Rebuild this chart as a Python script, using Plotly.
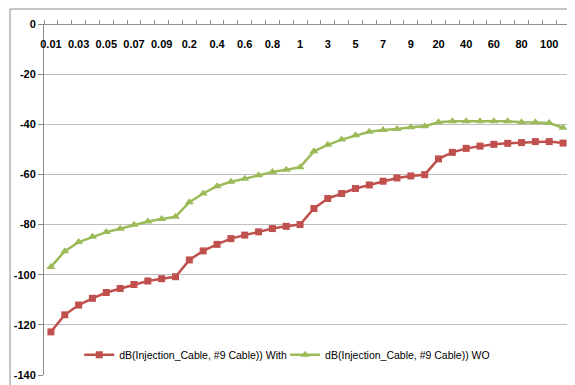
import plotly.graph_objects as go

freq_labels = ["0.01", "0.02", "0.03", "0.04", "0.05", "0.06", "0.07", "0.08", "0.09",
               "0.1", "0.2", "0.3", "0.4", "0.5", "0.6", "0.7", "0.8", "0.9",
               "1", "2", "3", "4", "5", "6", "7", "8", "9",
               "10", "20", "30", "40", "50", "60", "70", "80", "90",
               "100", "110"]

with_vals = [-122.8, -116.0, -112.1, -109.4, -107.1, -105.5, -103.9, -102.5, -101.6,
             -100.8, -94.1, -90.5, -87.9, -85.6, -84.2, -82.9, -81.6, -80.7,
             -80.0, -73.6, -69.6, -67.6, -65.6, -64.2, -62.7, -61.4, -60.6,
             -60.1, -53.8, -51.2, -49.6, -48.7, -48.0, -47.6, -47.3, -46.9,
             -46.9, -47.5]

wo_vals = [-96.9, -90.6, -87.0, -84.9, -83.0, -81.7, -80.1, -78.8, -77.8,
           -76.9, -71.1, -67.6, -64.7, -62.9, -61.7, -60.3, -59.0, -58.1,
           -57.1, -50.8, -48.2, -46.1, -44.4, -43.0, -42.3, -41.9, -41.2,
           -40.8, -39.2, -38.8, -38.8, -38.8, -38.8, -38.8, -39.2, -39.2,
           -39.5, -41.4]

series_names = ["dB(Injection_Cable, #9 Cable)) With", "dB(Injection_Cable, #9 Cable)) WO"]
y_ticks = [0, -20, -40, -60, -80, -100, -120, -140]
y_tick_text = ["0", "-20", "-40", "-60", "-80", "-100", "-120", "-140"]

FONT = "Liberation Sans, Arial, sans-serif"
idx = list(range(len(freq_labels)))

fig = go.Figure()
fig.add_trace(go.Scatter(x=idx, y=with_vals, mode="lines+markers", name=series_names[0],
                         line=dict(color="#C0504D", width=2.5), legend="legend",
                         marker=dict(symbol="square", size=7, color="#C0504D")))
fig.add_trace(go.Scatter(x=idx, y=wo_vals, mode="lines+markers", name=series_names[1],
                         line=dict(color="#9BBB59", width=2.5), legend="legend2",
                         marker=dict(symbol="triangle-up", size=8, color="#9BBB59")))

leg_common = dict(orientation="h", y=0.058, xanchor="left", yanchor="middle",
                  bgcolor="rgba(0,0,0,0)", font=dict(family=FONT, size=10.5, color="black"),
                  itemwidth=30)

fig.update_layout(
    width=567, height=377,
    margin=dict(l=36, r=5, t=16, b=10),
    paper_bgcolor="white", plot_bgcolor="white",
    font=dict(family=FONT, size=11, color="black"),
    showlegend=True,
    legend=dict(x=0.067, **leg_common),
    legend2=dict(x=0.4584, **leg_common),
    xaxis=dict(anchor="free", position=1, side="bottom",
               range=[-0.5, len(freq_labels) - 0.5],
               tickvals=idx[::2], ticktext=freq_labels[::2],
               ticks="", ticklabelstandoff=10, automargin=False,
               showline=True, linecolor="#8c8c8c", linewidth=1,
               showgrid=False, zeroline=False,
               tickfont=dict(family=FONT, size=11, color="black", weight="bold"),
               minor=dict(tickvals=[i - 0.5 for i in range(len(freq_labels) + 1)],
                          ticks="inside", ticklen=4, tickcolor="#8c8c8c", showgrid=False)),
    yaxis=dict(range=[-140, 0], tickvals=y_ticks, ticktext=y_tick_text,
               ticks="outside", ticklen=5, automargin=False,
               tickcolor="#8c8c8c", showline=True, linecolor="#8c8c8c", linewidth=1,
               showgrid=True, gridcolor="#bdbdbd", gridwidth=1, zeroline=False,
               tickfont=dict(family=FONT, size=11, color="black", weight="bold")),
    shapes=[dict(type="rect", xref="paper", yref="paper",
                 x0=-0.0646, x1=1.05, y0=-0.05, y1=1.0427,
                 line=dict(color="#8c8c8c", width=1), fillcolor="rgba(0,0,0,0)", layer="below")],
)

fig.write_html("out.html")
